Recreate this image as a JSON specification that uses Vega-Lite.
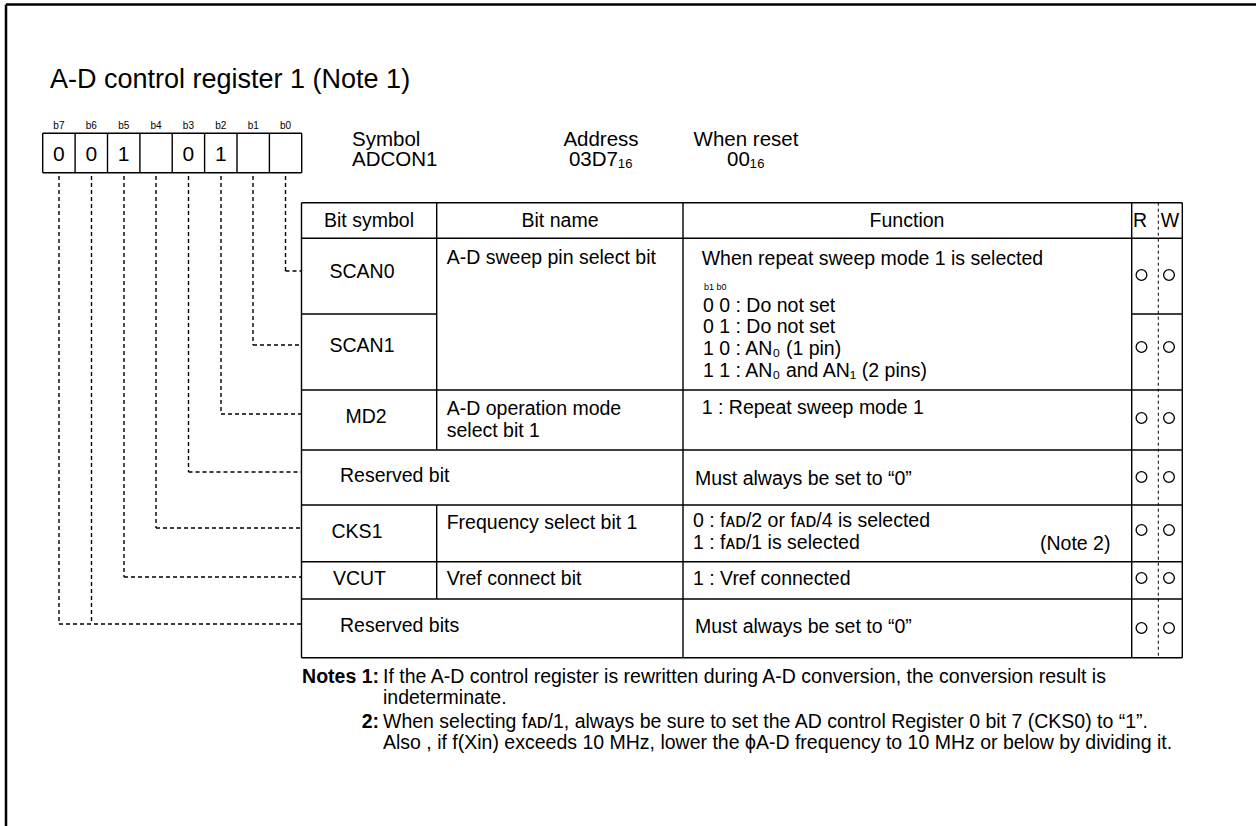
{
  "$schema": "https://vega.github.io/schema/vega-lite/v6.json",
  "width": 1256,
  "height": 826,
  "padding": 0,
  "autosize": {"type": "none"},
  "background": "white",
  "config": {"view": {"stroke": null}, "text": {"font": "Liberation Sans", "color": "black"}},
  "datasets": {
    "frame": [
      {"x": 6, "y": 4.5, "x2": 1256, "y2": 4.5},
      {"x": 6, "y": 4.5, "x2": 6, "y2": 826}
    ],
    "table": [
      {"x": 301.5, "y": 202.7, "x2": 1182.3, "y2": 202.7},
      {"x": 301.5, "y": 238.3, "x2": 1182.3, "y2": 238.3},
      {"x": 301.5, "y": 314, "x2": 436.7, "y2": 314},
      {"x": 1131.7, "y": 314, "x2": 1182.3, "y2": 314},
      {"x": 301.5, "y": 390, "x2": 1182.3, "y2": 390},
      {"x": 301.5, "y": 450, "x2": 1182.3, "y2": 450},
      {"x": 301.5, "y": 505, "x2": 1182.3, "y2": 505},
      {"x": 301.5, "y": 561.7, "x2": 1182.3, "y2": 561.7},
      {"x": 301.5, "y": 599, "x2": 1182.3, "y2": 599},
      {"x": 301.5, "y": 657.7, "x2": 1182.3, "y2": 657.7},
      {"x": 301.5, "y": 202.7, "x2": 301.5, "y2": 657.7},
      {"x": 436.7, "y": 202.7, "x2": 436.7, "y2": 450},
      {"x": 436.7, "y": 505, "x2": 436.7, "y2": 599},
      {"x": 683, "y": 202.7, "x2": 683, "y2": 657.7},
      {"x": 1131.7, "y": 202.7, "x2": 1131.7, "y2": 657.7},
      {"x": 1182.3, "y": 202.7, "x2": 1182.3, "y2": 657.7},
      {"x": 42.7, "y": 133.3, "x2": 301.7, "y2": 133.3},
      {"x": 42.7, "y": 172.7, "x2": 301.7, "y2": 172.7},
      {"x": 42.7, "y": 133.3, "x2": 42.7, "y2": 172.7},
      {"x": 75.1, "y": 133.3, "x2": 75.1, "y2": 172.7},
      {"x": 107.5, "y": 133.3, "x2": 107.5, "y2": 172.7},
      {"x": 139.9, "y": 133.3, "x2": 139.9, "y2": 172.7},
      {"x": 172.2, "y": 133.3, "x2": 172.2, "y2": 172.7},
      {"x": 204.6, "y": 133.3, "x2": 204.6, "y2": 172.7},
      {"x": 237, "y": 133.3, "x2": 237, "y2": 172.7},
      {"x": 269.4, "y": 133.3, "x2": 269.4, "y2": 172.7},
      {"x": 301.7, "y": 133.3, "x2": 301.7, "y2": 172.7}
    ],
    "leaders": [
      {"x": 285.5, "y": 176, "x2": 285.5, "y2": 271},
      {"x": 285.5, "y": 271, "x2": 301.5, "y2": 271},
      {"x": 253, "y": 176, "x2": 253, "y2": 345},
      {"x": 253, "y": 345, "x2": 301.5, "y2": 345},
      {"x": 221, "y": 176, "x2": 221, "y2": 414},
      {"x": 221, "y": 414, "x2": 301.5, "y2": 414},
      {"x": 188.5, "y": 176, "x2": 188.5, "y2": 472},
      {"x": 188.5, "y": 472, "x2": 301.5, "y2": 472},
      {"x": 156, "y": 176, "x2": 156, "y2": 528},
      {"x": 156, "y": 528, "x2": 301.5, "y2": 528},
      {"x": 124, "y": 176, "x2": 124, "y2": 577},
      {"x": 124, "y": 577, "x2": 301.5, "y2": 577},
      {"x": 91.5, "y": 176, "x2": 91.5, "y2": 624},
      {"x": 59, "y": 176, "x2": 59, "y2": 624},
      {"x": 59, "y": 624, "x2": 301.5, "y2": 624}
    ],
    "rwdash": [
      {"x": 1158.3, "y": 202.7, "x2": 1158.3, "y2": 657.7}
    ],
    "circles": [
      {"x": 1141.5, "y": 275}, {"x": 1169, "y": 275},
      {"x": 1141.5, "y": 347}, {"x": 1169, "y": 347},
      {"x": 1141.5, "y": 418}, {"x": 1169, "y": 418},
      {"x": 1141.5, "y": 477}, {"x": 1169, "y": 477},
      {"x": 1141.5, "y": 530}, {"x": 1169, "y": 530},
      {"x": 1141.5, "y": 578}, {"x": 1169, "y": 578},
      {"x": 1141.5, "y": 628}, {"x": 1169, "y": 628}
    ],
    "title": [
      {"x": 50, "y": 88, "t": "A-D control register 1 (Note 1)"}
    ],
    "bitlabels": [
      {"x": 58.9, "y": 129, "t": "b7"},
      {"x": 91.3, "y": 129, "t": "b6"},
      {"x": 123.7, "y": 129, "t": "b5"},
      {"x": 156, "y": 129, "t": "b4"},
      {"x": 188.4, "y": 129, "t": "b3"},
      {"x": 220.8, "y": 129, "t": "b2"},
      {"x": 253.2, "y": 129, "t": "b1"},
      {"x": 285.5, "y": 129, "t": "b0"}
    ],
    "digits": [
      {"x": 58.9, "y": 161, "t": "0"},
      {"x": 91.3, "y": 161, "t": "0"},
      {"x": 123.7, "y": 161, "t": "1"},
      {"x": 188.4, "y": 161, "t": "0"},
      {"x": 220.8, "y": 161, "t": "1"}
    ],
    "infoLeft": [
      {"x": 352, "y": 146, "t": "Symbol"},
      {"x": 352, "y": 166, "t": "ADCON1"}
    ],
    "infoCenter": [
      {"x": 601, "y": 146, "t": "Address"},
      {"x": 601, "y": 166, "t": "03D7₁₆"},
      {"x": 746, "y": 146, "t": "When reset"},
      {"x": 746, "y": 166, "t": "00₁₆"}
    ],
    "bodyCenter": [
      {"x": 369, "y": 227.3, "t": "Bit symbol"},
      {"x": 560, "y": 227.3, "t": "Bit name"},
      {"x": 907, "y": 227.3, "t": "Function"},
      {"x": 1140, "y": 227.3, "t": "R"},
      {"x": 1170, "y": 227.3, "t": "W"},
      {"x": 362, "y": 278, "t": "SCAN0"},
      {"x": 362, "y": 351.7, "t": "SCAN1"},
      {"x": 366, "y": 423, "t": "MD2"},
      {"x": 357, "y": 538, "t": "CKS1"},
      {"x": 359.5, "y": 585, "t": "VCUT"}
    ],
    "bodyLeft": [
      {"x": 446.7, "y": 263.5, "t": "A-D sweep pin select bit"},
      {"x": 701.7, "y": 265, "t": "When repeat sweep mode 1 is selected"},
      {"x": 703, "y": 311.5, "t": "0 0 : Do not set"},
      {"x": 703, "y": 333, "t": "0 1 : Do not set"},
      {"x": 703, "y": 355, "t": "1 0 : AN₀ (1 pin)"},
      {"x": 703, "y": 376.5, "t": "1 1 : AN₀ and AN₁ (2 pins)"},
      {"x": 446.7, "y": 415, "t": "A-D operation mode"},
      {"x": 446.7, "y": 436.5, "t": "select bit 1"},
      {"x": 701.7, "y": 413.5, "t": "1 : Repeat sweep mode 1"},
      {"x": 340, "y": 481.5, "t": "Reserved bit"},
      {"x": 695, "y": 485, "t": "Must always be set to “0”"},
      {"x": 446.7, "y": 528.5, "t": "Frequency select bit 1"},
      {"x": 693, "y": 526.5, "t": "0 : fᴀᴅ/2 or fᴀᴅ/4 is selected"},
      {"x": 693, "y": 549, "t": "1 : fᴀᴅ/1 is selected"},
      {"x": 1040, "y": 550, "t": "(Note 2)"},
      {"x": 446.7, "y": 585, "t": "Vref connect bit"},
      {"x": 693, "y": 585, "t": "1 : Vref connected"},
      {"x": 340, "y": 631.5, "t": "Reserved bits"},
      {"x": 695, "y": 632.5, "t": "Must always be set to “0”"}
    ],
    "small": [
      {"x": 704, "y": 289.5, "t": "b1 b0"}
    ],
    "noteBold": [
      {"x": 379, "y": 683, "t": "Notes 1:"},
      {"x": 379, "y": 728, "t": "2:"}
    ],
    "noteText": [
      {"x": 383, "y": 683, "t": "If the A-D control register is rewritten during A-D conversion, the conversion result is"},
      {"x": 383, "y": 704, "t": "indeterminate."},
      {"x": 383, "y": 728, "t": "When selecting fᴀᴅ/1, always be sure to set the AD control Register 0 bit 7 (CKS0) to “1”."},
      {"x": 383, "y": 749, "t": "Also , if f(Xin) exceeds 10 MHz, lower the ϕA-D frequency to 10 MHz or below by dividing it."}
    ]
  },
  "encoding": {
    "x": {"field": "x", "type": "quantitative", "scale": {"domain": [0, 1256], "nice": false, "zero": false}, "axis": null},
    "y": {"field": "y", "type": "quantitative", "scale": {"domain": [0, 826], "nice": false, "zero": false, "reverse": true}, "axis": null}
  },
  "layer": [
    {
      "data": {"name": "frame"},
      "mark": {"type": "rule", "color": "black", "strokeWidth": 2.5},
      "encoding": {"x2": {"field": "x2"}, "y2": {"field": "y2"}}
    },
    {
      "data": {"name": "table"},
      "mark": {"type": "rule", "color": "black", "strokeWidth": 1.4},
      "encoding": {"x2": {"field": "x2"}, "y2": {"field": "y2"}}
    },
    {
      "data": {"name": "leaders"},
      "mark": {"type": "rule", "color": "black", "strokeWidth": 1.4, "strokeDash": [4, 3]},
      "encoding": {"x2": {"field": "x2"}, "y2": {"field": "y2"}}
    },
    {
      "data": {"name": "rwdash"},
      "mark": {"type": "rule", "color": "black", "strokeWidth": 1, "strokeDash": [3, 3]},
      "encoding": {"x2": {"field": "x2"}, "y2": {"field": "y2"}}
    },
    {
      "data": {"name": "circles"},
      "mark": {"type": "point", "shape": "circle", "filled": false, "size": 115, "stroke": "black", "strokeWidth": 1.3, "opacity": 1}
    },
    {
      "data": {"name": "title"},
      "mark": {"type": "text", "align": "left", "baseline": "alphabetic", "fontSize": 27},
      "encoding": {"text": {"field": "t"}}
    },
    {
      "data": {"name": "bitlabels"},
      "mark": {"type": "text", "align": "center", "baseline": "alphabetic", "fontSize": 10},
      "encoding": {"text": {"field": "t"}}
    },
    {
      "data": {"name": "digits"},
      "mark": {"type": "text", "align": "center", "baseline": "alphabetic", "fontSize": 21},
      "encoding": {"text": {"field": "t"}}
    },
    {
      "data": {"name": "infoLeft"},
      "mark": {"type": "text", "align": "left", "baseline": "alphabetic", "fontSize": 20.5},
      "encoding": {"text": {"field": "t"}}
    },
    {
      "data": {"name": "infoCenter"},
      "mark": {"type": "text", "align": "center", "baseline": "alphabetic", "fontSize": 20.5},
      "encoding": {"text": {"field": "t"}}
    },
    {
      "data": {"name": "bodyCenter"},
      "mark": {"type": "text", "align": "center", "baseline": "alphabetic", "fontSize": 19.5},
      "encoding": {"text": {"field": "t"}}
    },
    {
      "data": {"name": "bodyLeft"},
      "mark": {"type": "text", "align": "left", "baseline": "alphabetic", "fontSize": 19.5},
      "encoding": {"text": {"field": "t"}}
    },
    {
      "data": {"name": "small"},
      "mark": {"type": "text", "align": "left", "baseline": "alphabetic", "fontSize": 9},
      "encoding": {"text": {"field": "t"}}
    },
    {
      "data": {"name": "noteBold"},
      "mark": {"type": "text", "align": "right", "baseline": "alphabetic", "fontSize": 19.5, "fontWeight": "bold"},
      "encoding": {"text": {"field": "t"}}
    },
    {
      "data": {"name": "noteText"},
      "mark": {"type": "text", "align": "left", "baseline": "alphabetic", "fontSize": 19.5},
      "encoding": {"text": {"field": "t"}}
    }
  ]
}
